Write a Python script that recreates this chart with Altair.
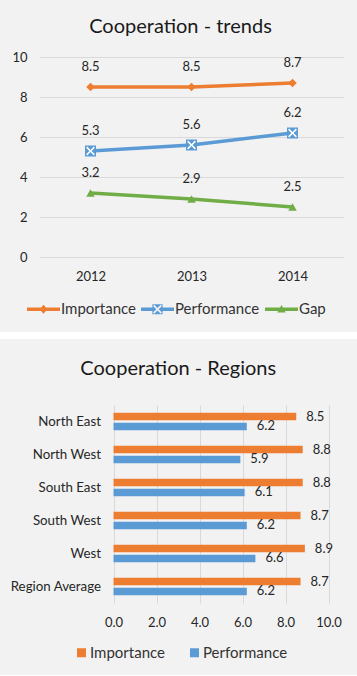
import altair as alt
import pandas as pd

# ---------------- data ----------------
years = ["2012", "2013", "2014"]
trend_series = ["Importance", "Performance", "Gap"]
importance_trend = [8.5, 8.5, 8.7]
performance_trend = [5.3, 5.6, 6.2]
gap_trend = [3.2, 2.9, 2.5]

regions = ["North East", "North West", "South East", "South West", "West", "Region Average"]
bar_series = ["Importance", "Performance"]
importance_region = [8.5, 8.8, 8.8, 8.7, 8.9, 8.7]
performance_region = [6.2, 5.9, 6.1, 6.2, 6.6, 6.2]

trend_colors = ["#ED7D31", "#5B9BD5", "#70AD47"]
bar_colors = ["#ED7D31", "#5B9BD5"]

trend_rows = []
for s, vals in zip(trend_series, [importance_trend, performance_trend, gap_trend]):
    for y, v in zip(years, vals):
        trend_rows.append({"year": y, "series": s, "value": v})
trend_df = pd.DataFrame(trend_rows)

bar_rows = []
for s, vals in zip(bar_series, [importance_region, performance_region]):
    for r, v in zip(regions, vals):
        bar_rows.append({"region": r, "series": s, "value": v})
bar_df = pd.DataFrame(bar_rows)

FONT = "Lato"
TXT = "#262626"
GRID = "#d9d9d9"

# legend symbols: line + marker (unit square -1..1)
leg_imp = "M-1,-0.1H1V0.1H-1Z M0,-0.28L0.24,0L0,0.28L-0.24,0Z"
leg_perf = ("M-1,-0.1H-0.3V0.1H-1Z M0.3,-0.1H1V0.1H0.3Z M-0.31,-0.31H0.31V0.31H-0.31Z "
            "M-0.07,0L-0.27,0.2L-0.2,0.27L0,0.07L0.2,0.27L0.27,0.2L0.07,0L0.27,-0.2L0.2,-0.27L0,-0.07L-0.2,-0.27L-0.27,-0.2Z")
leg_gap = "M-1,-0.1H1V0.1H-1Z M0,-0.26L0.26,0.2L-0.26,0.2Z"
x_mark = ("M-0.8,-0.6L-0.6,-0.8L0,-0.2L0.6,-0.8L0.8,-0.6L0.2,0L0.8,0.6L0.6,0.8L0,0.2L-0.6,0.8L-0.8,0.6L-0.2,0Z")

# ---------------- top chart ----------------
color_trend = alt.Scale(domain=trend_series, range=trend_colors)

base = alt.Chart(trend_df).encode(
    x=alt.X("year:O", sort=years, scale=alt.Scale(padding=0.5),
            axis=alt.Axis(title=None, labelAngle=0, domain=False, ticks=False, grid=False,
                          labelPadding=13, labelFontSize=13, labelColor=TXT)),
    y=alt.Y("value:Q", scale=alt.Scale(domain=[0, 10]),
            axis=alt.Axis(title=None, values=[0, 2, 4, 6, 8, 10], domain=False, ticks=False,
                          labelPadding=13, labelFontSize=13, labelColor=TXT, labelFlush=False,
                          gridColor=GRID, minExtent=40, maxExtent=40)),
)

lines = base.mark_line(strokeWidth=3.5, strokeCap="round", strokeJoin="round").encode(
    color=alt.Color("series:N", scale=color_trend, legend=None))

imp_pts = base.transform_filter(alt.datum.series == "Importance").mark_point(
    shape="diamond", size=72, filled=True, opacity=1).encode(
    color=alt.Color("series:N", scale=color_trend, legend=None))
perf_pts = base.transform_filter(alt.datum.series == "Performance").mark_point(
    shape="square", size=121, filled=True, opacity=1).encode(
    color=alt.Color("series:N", scale=color_trend, legend=None))
perf_x = base.transform_filter(alt.datum.series == "Performance").mark_point(
    shape=x_mark, size=121, filled=True, opacity=1, strokeWidth=0).encode(
    color=alt.value("white"))
gap_pts = base.transform_filter(alt.datum.series == "Gap").mark_point(
    shape="triangle-up", size=72, filled=True, opacity=1).encode(
    color=alt.Color("series:N", scale=color_trend, legend=None))

labels = base.mark_text(dy=-20.5, fontSize=13, baseline="middle").encode(
    text=alt.Text("value:Q", format=".1f"), color=alt.value(TXT))

leg_def = alt.Legend(orient="none", legendX=-13, legendY=235.5, direction="horizontal",
                     title=None, labelFontSize=15, labelColor="#333333", labelFont=FONT,
                     symbolSize=1089, symbolStrokeWidth=0, symbolOpacity=1,
                     labelOffset=1, columnPadding=5, padding=0)
legend_layer = base.mark_point(filled=True, opacity=0).encode(
    color=alt.Color("series:N", scale=color_trend, legend=leg_def),
    shape=alt.Shape("series:N", scale=alt.Scale(domain=trend_series,
                                                range=[leg_imp, leg_perf, leg_gap]),
                    legend=leg_def),
)

white_band = alt.Chart(pd.DataFrame({"k": [0]})).mark_rect(color="white").encode(
    x=alt.value(-40), x2=alt.value(317), y=alt.value(275), y2=alt.value(282))

top = alt.layer(white_band, lines, imp_pts, perf_pts, perf_x, gap_pts, labels, legend_layer).resolve_scale(
    color="independent", shape="independent"
).properties(
    width=303, height=200,
    title=alt.TitleParams("Cooperation - trends", fontSize=20, fontWeight="normal",
                          color="#1a1a1a", anchor="middle", frame="group", dx=-11, offset=14),
)

# ---------------- bottom chart ----------------
# plot group starts at the same x as the top one (40 px); the value scale is drawn from 73.5 px in
color_bar = alt.Scale(domain=bar_series, range=bar_colors)

bbase = alt.Chart(bar_df).encode(
    y=alt.Y("region:N", sort=regions, scale=alt.Scale(paddingInner=0.47, paddingOuter=0.235),
            axis=alt.Axis(title=None, domain=False, ticks=False, grid=False, labelPadding=13,
                          offset=-73.5, labelFontSize=13.3, labelColor=TXT,
                          minExtent=40, maxExtent=40)),
    yOffset=alt.YOffset("series:N", sort=bar_series,
                        scale=alt.Scale(paddingInner=0.25, paddingOuter=0)),
    x=alt.X("value:Q", scale=alt.Scale(domain=[0, 10], range=[73.5, 288.5]),
            axis=alt.Axis(title=None, values=[0, 2, 4, 6, 8, 10], format=".1f", domain=False,
                          ticks=False, labelPadding=13.5, labelFontSize=13, labelColor=TXT,
                          labelFlush=False, gridColor=GRID)),
)

bars = bbase.mark_bar().encode(
    color=alt.Color("series:N", scale=color_bar,
                    legend=alt.Legend(orient="none", legendX=34, legendY=240,
                                      direction="horizontal", title=None, labelFontSize=15,
                                      labelColor="#333333", labelFont=FONT, symbolType="square",
                                      symbolSize=81, symbolStrokeWidth=0, labelOffset=1,
                                      columnPadding=22, padding=0)))
bar_text = bbase.mark_text(align="left", dx=10, baseline="middle", fontSize=13).encode(
    text=alt.Text("value:Q", format=".1f"), color=alt.value(TXT))

bottom = alt.layer(bars, bar_text).properties(
    width=288.5, height=198,
    title=alt.TitleParams("Cooperation - Regions", fontSize=20, fontWeight="normal",
                          color="#1a1a1a", anchor="middle", frame="group", dx=-6, offset=26),
)

chart = alt.vconcat(top, bottom, spacing=20).resolve_scale(
    color="independent", shape="independent"
).properties(
    background="#f2f2f2",
    padding={"left": 0, "top": 17, "right": 0, "bottom": 14},
).configure(font=FONT).configure_view(strokeWidth=0)

chart.save("out.html", embed_options={"renderer": "svg", "actions": False})
